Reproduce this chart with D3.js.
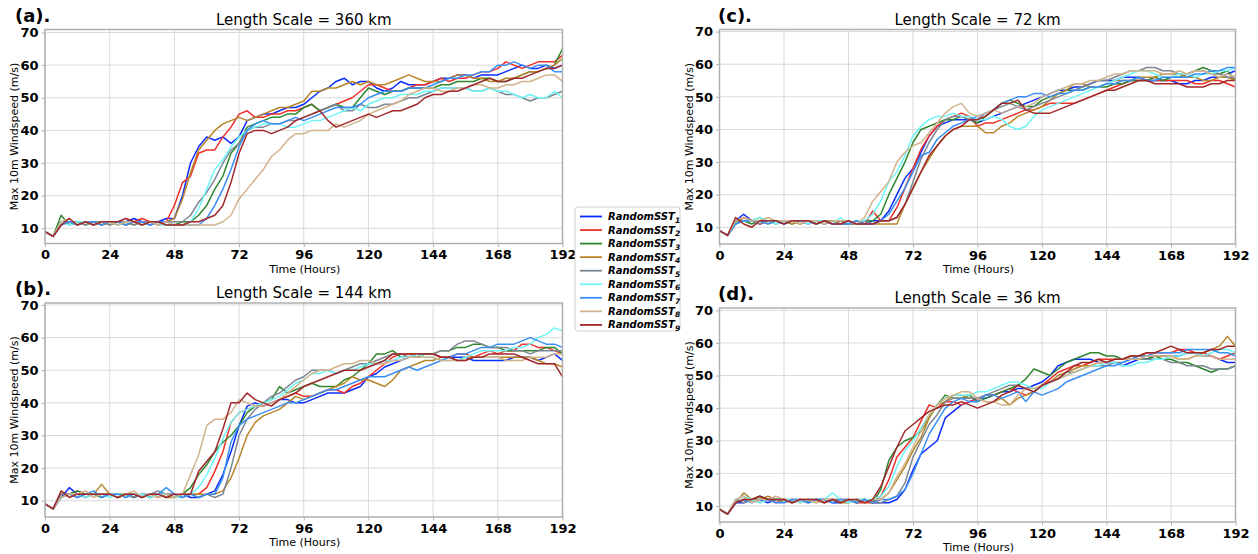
<!DOCTYPE html>
<html><head><meta charset="utf-8">
<script src="https://d3js.org/d3.v7.min.js"></script>
<style>
body{margin:0;background:#fff;}
svg{display:block;font-family:"DejaVu Sans",sans-serif;}
</style></head><body>
<svg id="chart" width="1258" height="554"></svg>
<script>
const hours = [0,3,6,9,12,15,18,21,24,27,30,33,36,39,42,45,48,51,54,57,60,63,66,69,72,75,78,81,84,87,90,93,96,99,102,105,108,111,114,117,120,123,126,129,132,135,138,141,144,147,150,153,156,159,162,165,168,171,174,177,180,183,186,189,192];
const xTicks = [0,24,48,72,96,120,144,168,192];
const yTicks = [10,20,30,40,50,60,70];
const seriesNames = ["1","2","3","4","5","6","7","8","9"];
const seriesColors = ["#0a2cff","#f0302a","#2e862e","#b8862a","#7c8692","#6ff6f6","#3a8ff5","#d2b48c","#a1282a"];
const panelLabels = ["(a).","(b).","(c).","(d)."];
const panelTitles = ["Length Scale = 360 km","Length Scale = 144 km","Length Scale = 72 km","Length Scale = 36 km"];

// Panel (a) 360 km
const a1=[9,7.5,12,12,11,12,11,12, 12,11,12,13,12,11,12,13, 13,20,30,35,38,37,38,36, 38,43,44,45,45,46,47,47, 48,50,52,53,55,56,54,55, 55,53,52,53,55,54,54,54, 55,56,56,57,57,56,57,57, 57,58,59,60,59,59,60,59, 60];
const a2=[9,7.5,11,12,11,12,12,11, 12,12,11,12,13,12,11,12, 17,24,26,33,34,34,38,41, 45,46,44,44,45,45,46,46, 47,48,46,47,48,49,50,52, 54,54,53,52,52,53,54,54, 55,56,55,56,56,57,58,58, 59,61,60,59,60,61,61,61, 63];
const a3=[9,7.5,14,11,12,11,12,11, 12,12,11,12,11,12,12,11, 11,12,12,14,17,22,26,33, 36,41,42,43,44,44,45,45, 47,48,46,47,48,47,47,50, 53,52,51,52,52,53,53,53, 53,54,54,55,55,55,56,56, 55,55,56,57,58,58,59,60, 65];
const a4=[9,7.5,12,12,11,12,11,12, 11,12,12,11,12,12,11,12, 13,19,27,34,37,40,42,43, 44,43,44,45,46,47,47,48, 49,52,52,53,53,54,55,54, 55,54,54,55,56,57,56,55, 55,55,56,57,57,56,56,55, 55,56,56,57,58,58,59,60, 62];
const a5=[9,7.5,12,12,12,11,12,12, 11,12,12,11,12,12,11,12, 12,12,14,18,21,25,30,34, 36,40,41,41,42,42,43,43, 44,45,46,47,48,46,46,48, 47,47,48,48,49,50,50,51, 52,53,53,53,53,52,52,53, 52,51,51,50,49,50,50,51, 52];
const a6=[9,7.5,12,11,12,12,11,12, 12,11,12,12,11,12,11,11, 11,11,12,16,22,28,31,35, 38,40,41,42,42,42,41,41, 42,43,43,44,45,46,47,46, 48,49,50,50,51,51,51,52, 52,53,53,53,53,52,52,53, 52,52,51,50,51,50,50,52, 50];
const a7=[9,7.5,11,12,11,12,12,11, 12,12,11,12,12,11,12,12, 11,11,11,11,13,17,22,28, 35,40,42,43,42,42,43,44, 43,44,45,46,47,47,47,48, 50,51,52,52,52,53,53,53, 54,55,56,56,57,57,58,58, 60,60,61,60,59,60,60,58, 58];
const a8=[9,7.5,12,13,11,12,11,12, 12,11,12,12,11,12,11,12, 11,11,11,11,11,11,12,14, 19,22,25,28,32,34,37,39, 39,40,40,40,42,41,42,43, 45,46,47,48,49,51,52,53, 53,52,52,53,53,54,54,53, 53,54,54,55,55,56,57,57, 55];
const a9=[9,7.5,11,13,11,12,11,12, 12,12,13,12,11,12,12,11, 11,11,12,12,13,14,17,24, 33,39,40,40,39,40,41,43, 44,45,46,43,41,42,43,44, 45,44,45,46,46,47,48,50, 51,51,52,52,53,54,55,56, 55,55,56,56,57,58,59,59, 60];

// Panel (b) 144 km
const b1=[9,7.5,11,14,12,11,12,12, 12,11,12,11,12,11,12,12, 11,12,11,11,12,13,18,25, 33,39,40,39,40,41,41,40, 40,41,42,43,43,43,44,45, 48,49,51,52,53,54,55,55, 55,54,54,54,54,53,53,53, 53,53,54,54,54,53,54,55, 53];
const b2=[9,7.5,12,12,13,12,12,12, 12,11,12,12,11,12,11,12, 12,11,12,12,14,19,25,34, 37,38,39,39,40,41,42,43, 42,42,43,44,44,43,45,46, 48,50,52,54,55,55,55,55, 55,54,54,55,55,54,55,56, 55,56,56,58,58,57,57,56, 55];
const b3=[9,7.5,11,12,13,12,12,11, 12,12,12,11,12,11,12,12, 11,12,14,18,21,25,28,30, 33,37,39,40,41,45,43,44, 45,46,45,45,45,47,48,50, 52,55,55,56,54,54,54,55, 55,56,56,57,57,58,58,57, 57,56,56,56,56,56,57,57, 55];
const b4=[9,7.5,11,12,12,11,12,15, 12,11,12,12,11,12,12,11, 11,12,12,12,12,12,13,17, 23,30,34,36,37,38,40,42, 41,42,43,44,45,46,48,47, 47,46,45,47,50,51,52,53, 53,54,54,53,54,54,54,54, 54,54,54,54,54,53,52,52, 51];
const b5=[9,7.5,12,12,11,12,12,12, 12,11,12,11,12,12,13,12, 12,11,12,11,12,11,12,20, 30,35,38,40,42,43,45,47, 48,50,50,50,49,50,51,52, 52,53,54,55,55,54,55,55, 55,56,56,58,59,59,58,57, 57,57,56,56,55,56,56,56, 56];
const b6=[9,7.5,11,12,12,11,12,12, 11,12,11,12,12,11,12,12, 11,11,12,14,18,23,29,34, 37,38,39,40,41,42,44,46, 47,49,49,50,49,50,50,51, 52,52,53,53,54,54,55,54, 54,53,53,53,54,55,56,56, 56,56,57,57,58,60,61,63, 62];
const b7=[9,7.5,11,12,11,12,13,11, 12,12,11,12,11,12,12,14, 12,11,12,11,12,12,17,28, 33,35,36,37,38,39,40,40, 41,42,43,44,44,45,46,47, 48,48,48,49,50,51,50,51, 52,53,54,55,55,56,57,57, 58,58,58,59,60,59,58,58, 57];
const b8=[9,7.5,11,12,12,13,11,12, 12,11,12,13,11,12,11,12, 11,12,18,24,33,35,35,37, 41,40,39,39,40,41,43,45, 47,49,50,50,51,52,52,53, 53,52,52,53,53,54,54,54, 54,53,53,53,53,54,54,54, 54,53,53,53,54,54,54,55, 55];
const b9=[9,7.5,13,11,12,12,12,12, 12,11,12,12,11,12,12,11, 12,12,12,19,22,25,32,40, 40,43,41,40,39,41,42,43, 45,46,47,48,49,50,50,50, 51,52,53,55,55,55,55,55, 55,54,54,53,53,54,54,55, 55,55,55,54,53,52,52,52, 48];

// Panel (c) 72 km
const c1=[9,7.5,12,14,12,11,12,12, 11,12,12,11,12,11,12,11, 11,12,11,12,12,15,20,25, 28,33,38,41,42,43,43,43, 42,43,44,45,46,47,48,49, 50,51,52,52,53,53,54,55, 55,55,56,56,56,55,55,55, 55,54,54,55,55,56,56,57, 58];
const c2=[9,7.5,11,13,12,11,12,12, 12,12,11,12,11,12,11,12, 11,12,11,15,12,12,16,22, 28,34,38,41,43,44,45,44, 41,42,42,43,44,45,46,46, 47,48,48,48,48,49,50,51, 52,53,54,55,55,55,55,55, 55,55,55,54,54,55,55,54, 53];
const c3=[9,7.5,12,12,11,12,12,11, 12,11,12,12,11,12,11,11, 11,11,12,12,14,20,25,30, 36,40,41,42,43,43,44,43, 42,44,46,48,49,48,47,47, 49,50,51,52,52,52,53,53, 53,54,54,55,55,55,56,55, 56,56,57,58,59,58,57,58, 55];
const c4=[9,7.5,11,12,12,13,11,12, 12,11,12,12,11,12,12,11, 11,11,11,11,11,11,11,17, 22,27,31,35,38,40,41,41, 41,39,39,41,42,44,45,46, 47,49,51,52,54,54,53,53, 54,55,55,55,56,56,56,57, 57,57,56,56,55,55,56,56, 55];
const c5=[9,7.5,11,12,12,11,12,12, 12,12,11,12,12,11,12,12, 11,11,12,11,12,12,13,17, 24,31,36,40,43,44,44,43, 43,45,46,47,48,47,46,47, 48,49,50,51,52,53,54,55, 55,56,57,58,58,59,59,58, 58,57,57,58,58,57,57,56, 56];
const c6=[9,7.5,11,12,12,13,12,11, 12,12,12,11,12,12,11,13, 11,12,12,14,18,24,27,32, 38,41,43,44,44,45,44,44, 43,43,44,43,41,40,41,44, 46,47,48,49,50,51,52,53, 54,55,56,57,58,58,57,56, 56,57,57,56,57,57,58,58, 59];
const c7=[9,7.5,11,12,12,12,11,12, 11,12,12,12,11,12,11,11, 11,12,11,11,12,14,18,22, 27,32,33,37,39,41,42,43, 44,45,46,48,49,50,50,51, 51,50,51,51,52,52,53,53, 54,54,55,55,56,55,55,56, 56,56,56,57,57,58,58,59, 59];
const c8=[9,7.5,12,13,12,12,13,12, 12,12,11,12,12,11,12,12, 12,11,13,18,21,24,30,33, 35,36,39,42,45,47,48,45, 44,45,46,45,46,47,47,48, 50,51,52,53,54,54,55,55, 56,57,57,58,58,58,58,57, 57,58,57,58,58,57,56,57, 56];
const c9=[9,7.5,13,11,10,12,12,12, 11,12,12,12,11,12,11,11, 12,11,11,11,12,12,13,17, 22,27,32,35,38,40,41,43, 43,44,46,48,48,49,46,45, 45,45,46,47,48,49,50,51, 52,52,53,54,55,55,54,54, 54,54,53,53,53,54,54,55, 55];

// Panel (d) 36 km
const d1=[9,7.5,11,11,12,12,11,12, 12,11,12,11,12,12,11,11, 12,11,12,11,11,11,12,15, 21,26,28,30,37,39,41,42, 43,43,44,45,45,46,46,47, 48,50,53,54,55,55,55,54, 54,54,53,54,55,55,56,56, 56,56,57,57,56,56,55,54, 54];
const d2=[9,7.5,11,12,12,13,12,11, 12,12,11,12,12,11,12,12, 12,11,11,11,13,18,25,28, 31,36,41,40,42,42,41,42, 43,44,44,45,46,45,44,45, 47,49,51,52,53,53,54,55, 55,55,55,56,56,57,57,57, 57,58,58,57,57,56,55,56, 57];
const d3v=[9,7.5,11,12,12,13,12,12, 12,11,12,11,12,12,12,11, 12,11,12,11,15,24,28,30, 31,33,37,41,44,43,43,44, 42,43,44,45,46,47,49,52, 51,50,52,54,55,56,57,57, 56,56,55,55,55,55,56,55, 55,54,54,53,52,51,52,52, 53];
const d4=[9,7.5,11,14,12,12,13,12, 12,11,12,12,11,12,12,11, 11,12,12,11,12,14,18,22, 27,31,37,41,42,44,44,43, 43,42,42,43,41,43,44,45, 47,48,50,51,52,53,53,54, 54,55,55,56,56,56,56,56, 56,55,55,56,57,58,59,62, 59];
const d5=[9,7.5,12,11,12,11,12,12, 11,12,12,11,12,11,12,12, 11,12,12,11,11,12,13,17, 25,30,35,38,42,43,43,43, 43,44,45,46,47,47,46,45, 47,48,49,51,51,52,53,53, 53,54,54,55,55,55,55,55, 54,54,53,53,53,52,52,52, 53];
const d6=[9,7.5,12,13,12,11,12,12, 12,12,11,12,12,12,14,12, 11,12,12,12,13,16,22,27, 30,34,38,41,43,44,44,44, 45,45,46,47,48,48,47,46, 46,48,49,50,51,52,53,53, 54,54,53,53,54,54,55,55, 56,56,57,57,56,57,58,58, 57];
const d7=[9,7.5,11,12,11,12,12,11, 11,12,12,11,12,12,11,12, 12,11,12,11,12,12,13,15, 20,26,32,36,40,42,43,42, 42,44,44,43,44,45,42,45, 44,45,46,48,49,50,51,52, 53,53,54,55,56,56,57,57, 57,57,58,58,58,58,57,57, 56];
const d8=[9,7.5,12,13,11,12,12,13, 12,11,12,12,11,12,12,11, 12,12,11,12,12,14,19,23, 28,33,38,41,43,44,45,45, 43,42,42,41,41,44,46,46, 47,48,49,50,51,52,53,54, 54,55,55,55,55,56,56,56, 56,55,55,56,56,56,55,55, 55];
const d9=[9,7.5,11,12,12,13,12,12, 12,11,12,12,12,11,12,11, 12,12,11,12,16,22,28,33, 35,37,39,40,41,41,42,41, 40,41,42,44,45,47,46,45, 47,48,49,51,53,54,54,55, 54,55,55,56,56,57,57,58, 59,58,57,57,57,58,58,59, 59];

const panelSeries = [
  [a1,a2,a3,a4,a5,a6,a7,a8,a9],
  [b1,b2,b3,b4,b5,b6,b7,b8,b9],
  [c1,c2,c3,c4,c5,c6,c7,c8,c9],
  [d1,d2,d3v,d4,d5,d6,d7,d8,d9]
];

// layout (pixel boxes)
const boxes = [
  {l:45, r:562.5, t:29.5, b:243.5, y10:228.3, y70:32.5, lx:15},
  {l:45, r:562.5, t:303,  b:517,   y10:500.7, y70:305, lx:15},
  {l:719.5, r:1235.5, t:29.5, b:244, y10:227.3, y70:31.6, lx:718},
  {l:719.5, r:1235.5, t:308,  b:522, y10:506,   y70:310.3, lx:718}
];

const svg = d3.select("#chart");
const gridColor = "#d9d9d9", spineColor = "#b0b0b0";

panelSeries.forEach((series, pi) => {
  const bx = boxes[pi];
  const x = d3.scaleLinear().domain([0,192]).range([bx.l, bx.r]);
  const y = d3.scaleLinear().domain([10,70]).range([bx.y10, bx.y70]);
  const g = svg.append("g");
  const clipId = "clip"+pi;
  svg.append("clipPath").attr("id", clipId).append("rect")
    .attr("x", bx.l).attr("y", bx.t).attr("width", bx.r-bx.l).attr("height", bx.b-bx.t);

  g.selectAll(".vg").data(xTicks).join("line")
    .attr("x1", d=>x(d)).attr("x2", d=>x(d)).attr("y1", bx.t).attr("y2", bx.b)
    .attr("stroke", gridColor).attr("stroke-width", 1);
  g.selectAll(".hg").data(yTicks).join("line")
    .attr("y1", d=>y(d)).attr("y2", d=>y(d)).attr("x1", bx.l).attr("x2", bx.r)
    .attr("stroke", gridColor).attr("stroke-width", 1);

  const line = d3.line().x((d,i)=>x(hours[i])).y(d=>y(d));
  const lg = g.append("g").attr("clip-path", `url(#${clipId})`);
  series.forEach((s, si) => {
    lg.append("path").datum(s).attr("d", line)
      .attr("fill","none").attr("stroke", seriesColors[si]).attr("stroke-width", 1.5)
      .attr("stroke-linejoin","round");
  });

  g.append("rect").attr("x", bx.l).attr("y", bx.t).attr("width", bx.r-bx.l).attr("height", bx.b-bx.t)
    .attr("fill","none").attr("stroke", spineColor).attr("stroke-width", 1.5);

  const xAxis = d3.axisBottom(x).tickValues(xTicks).tickSize(3.5).tickPadding(3).tickFormat(d3.format("d"));
  const yAxis = d3.axisLeft(y).tickValues(yTicks).tickSize(3.5).tickPadding(3).tickFormat(d3.format("d"));
  const xa = g.append("g").attr("transform", `translate(0,${bx.b})`).call(xAxis);
  const ya = g.append("g").attr("transform", `translate(${bx.l},0)`).call(yAxis);
  [xa, ya].forEach(a => {
    a.select(".domain").remove();
    a.selectAll(".tick line").attr("stroke", spineColor);
    a.selectAll(".tick text").attr("fill","#000").style("font-size","13px").style("font-weight","bold")
      .style("font-family","'DejaVu Sans', sans-serif");
  });

  g.append("text").attr("x", (bx.l+bx.r)/2 + 1).attr("y", bx.b + 29)
    .attr("text-anchor","middle").style("font-size","11px").text("Time (Hours)");
  g.append("text").attr("transform", `translate(${bx.l-27},${(bx.t+bx.b)/2}) rotate(-90)`)
    .attr("text-anchor","middle").style("font-size","11px").text("Max 10m Windspeed (m/s)");
  g.append("text").attr("x", (bx.l+bx.r)/2).attr("y", bx.t - 5)
    .attr("text-anchor","middle").style("font-size","15px").text(panelTitles[pi]);
  g.append("text").attr("x", bx.lx).attr("y", bx.t - 8)
    .style("font-size","18px").style("font-weight","bold").text(panelLabels[pi]);
});

const lgX = 575, lgY = 207;
const leg = svg.append("g");
leg.append("rect").attr("x", lgX).attr("y", lgY).attr("width", 105).attr("height", 124)
  .attr("rx", 3).attr("fill","#fff").attr("stroke","#d0d0d0").attr("stroke-width",1);
seriesNames.forEach((n, i) => {
  const yy = lgY + 9.5 + i*13.55;
  leg.append("line").attr("x1", lgX+5).attr("x2", lgX+27).attr("y1", yy).attr("y2", yy)
    .attr("stroke", seriesColors[i]).attr("stroke-width", 1.8);
  const t = leg.append("text").attr("x", lgX+33).attr("y", yy+3.5)
    .style("font-size","10px").style("font-weight","bold").style("font-style","italic");
  t.append("tspan").text("RandomSST");
  t.append("tspan").attr("dy", 2.5).style("font-size","7.5px").text(n);
});
</script>
</body></html>
